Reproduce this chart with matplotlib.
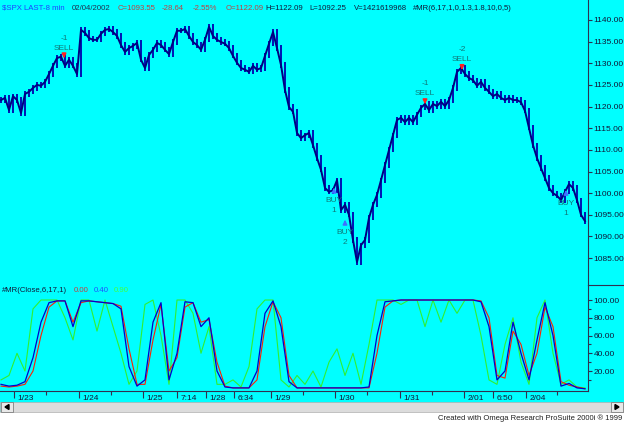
import numpy as np
import matplotlib.pyplot as plt
import matplotlib.transforms as mtransforms
from matplotlib.patches import Rectangle, Polygon
from matplotlib.lines import Line2D

plt.rcParams['font.family'] = ['Liberation Sans', 'DejaVu Sans']

W, H = 624, 423

# closes, one sample every ~24 minutes
closes = [1121.5, 1122.0, 1119.2, 1122.4, 1121.5, 1118.5, 1122.9, 1123.4, 1124.3, 1125.0,
          1124.8, 1125.7, 1127.5, 1129.4, 1131.2, 1131.5, 1129.4, 1130.8, 1129.4, 1127.5,
          1137.7, 1137.0, 1135.8, 1135.4, 1135.4, 1136.8, 1137.7, 1137.9, 1137.2, 1136.3,
          1134.2, 1132.6, 1133.5, 1134.0, 1134.7, 1130.8, 1128.9, 1131.9, 1133.1, 1134.7,
          1134.2, 1133.1, 1132.1, 1134.9, 1137.5, 1137.5, 1137.9, 1136.3, 1134.9, 1134.2,
          1133.1, 1135.4, 1138.4, 1136.3, 1135.4, 1134.9, 1134.5, 1133.5, 1131.7, 1130.1,
          1128.9, 1128.5, 1128.0, 1129.4, 1128.5, 1128.9, 1131.7, 1134.5, 1137.2, 1133.5,
          1129.6, 1123.8, 1119.9, 1118.8, 1113.9, 1112.7, 1113.4, 1113.9, 1111.1, 1108.1,
          1105.4, 1101.2, 1100.3, 1100.7, 1103.0, 1096.1, 1097.3, 1095.0, 1089.2, 1084.1,
          1088.0, 1089.2, 1094.3, 1097.3, 1099.6, 1103.0, 1106.5, 1110.0, 1113.4, 1116.9,
          1117.4, 1116.4, 1117.4, 1116.4, 1118.1, 1119.7, 1120.6, 1119.2, 1120.6, 1120.1,
          1121.1, 1120.1, 1121.5, 1124.3, 1128.0, 1128.9, 1127.5, 1126.6, 1126.1, 1124.8,
          1125.7, 1124.3, 1123.4, 1122.4, 1122.9, 1122.0, 1121.5, 1122.0, 1121.5, 1121.5,
          1121.0, 1119.0, 1115.1, 1111.1, 1108.1, 1105.8, 1103.5, 1101.2, 1100.0, 1099.4,
          1098.4, 1100.3, 1102.1, 1101.2, 1098.4, 1095.0, 1093.55]

# #MR(Close,6,17,1) lines, one sample every second bar
osc_blue = [5, 3, 4, 8, 35, 75, 97, 99, 99, 70, 99, 99, 98, 97, 96, 90, 25, 3, 10, 75,
            97, 10, 40, 98, 97, 70, 80, 20, 2, 1, 1, 1, 20, 85, 99, 70, 8, 1, 1, 1,
            1, 1, 1, 1, 1, 1, 2, 60, 98, 99, 100, 100, 100, 100, 100, 100, 100, 100, 100, 100,
            98, 70, 10, 20, 75, 40, 10, 55, 97, 60, 3, 6, 1, 0]
osc_red = [3, 2, 3, 5, 20, 60, 92, 99, 99, 75, 97, 99, 98, 97, 96, 93, 45, 5, 5, 55,
           95, 20, 35, 92, 97, 75, 78, 30, 3, 1, 1, 1, 10, 70, 98, 80, 15, 1, 1, 1,
           1, 1, 1, 1, 1, 1, 1, 40, 92, 99, 100, 100, 100, 100, 100, 100, 100, 100, 100, 100,
           99, 80, 15, 12, 65, 50, 15, 40, 92, 70, 8, 4, 2, 0]
osc_green = [10, 15, 40, 20, 90, 100, 100, 100, 80, 55, 100, 100, 65, 100, 70, 40, 5, 20, 95, 100,
             60, 5, 100, 100, 85, 40, 70, 5, 5, 10, 2, 25, 90, 100, 100, 10, 2, 15, 5, 20,
             2, 30, 45, 15, 40, 5, 50, 100, 100, 100, 95, 100, 100, 70, 100, 75, 100, 85, 100, 100,
             60, 10, 5, 50, 80, 30, 5, 80, 100, 40, 5, 10, 2, 1]

# date / time axis
tick_lbl = ['1/23', '1/24', '1/25', '7:14', '1/28', '6:34', '1/29', '1/30', '1/31', '2/01', '6:50', '2/04']
tick_pos = [3.25, 19.5, 35.5, 44.0, 51.25, 58.25, 67.5, 83.5, 99.75, 115.75, 123.0, 131.25]
minor_pos = [11.25, 27.5, 75.5, 91.5, 107.75, 139.0]

# strategy signals: bar, price, side, quantity
sig_bar = [15.75, 106.0, 115.25, 83.25, 86.0, 141.25]
sig_price = [1130.5, 1119.9, 1127.8, 1101.9, 1094.5, 1101.4]
sig_side = ['SELL', 'SELL', 'SELL', 'BUY', 'BUY', 'BUY']
sig_qty = ['-1', '-1', '-2', '1', '2', '1']

CYAN = '#00ffff'
AXCOL = '#303050'
TXT = '#101838'

fig = plt.figure(figsize=(W / 100, H / 100), dpi=100)
fig.patch.set_facecolor(CYAN)

# ---- price panel
ax1 = fig.add_axes([0, 1 - 285 / H, 588 / W, 285 / H])
ax1.set_facecolor('none')
c = np.array(closes)
x = np.arange(len(c))
prev = np.r_[c[0], c[:-1]]
ax1.vlines(x, np.minimum(prev, c) - 0.6, np.maximum(prev, c) + 0.6, color='#0000b0', lw=1.3)
ax1.plot(x, c, color='#000080', lw=1.4)
ax1.set_xlim(-0.25, 146.75)
ax1.set_ylim(1078.8, 1144.6)
ax1.yaxis.tick_right()
ax1.set_yticks(np.arange(1085, 1141, 5))
ax1.yaxis.set_major_formatter('{x:.2f}')
ax1.tick_params(axis='y', direction='out', length=3, width=0.8, colors=AXCOL,
                labelcolor=TXT, labelsize=6, pad=1)
ax1.set_xticks([])
for s in ['left', 'top', 'bottom']:
    ax1.spines[s].set_visible(False)
ax1.spines['right'].set_color(AXCOL)
ax1.spines['right'].set_linewidth(0.8)

for b, p, side, q in zip(sig_bar, sig_price, sig_side, sig_qty):
    if side == 'SELL':
        ax1.annotate('', xy=(b, p), xytext=(0, 9), textcoords='offset pixels',
                     arrowprops=dict(arrowstyle='-|>', color='#ff2020', lw=1.2, mutation_scale=6))
        ax1.annotate(side, (b, p), xytext=(0, 13), textcoords='offset pixels',
                     ha='center', va='center', fontsize=6, color='#107878')
        ax1.annotate(q, (b, p), xytext=(0, 23), textcoords='offset pixels',
                     ha='center', va='center', fontsize=6, color='#107878')
    else:
        ax1.annotate('', xy=(b, p), xytext=(0, -9), textcoords='offset pixels',
                     arrowprops=dict(arrowstyle='-|>', color='#4070ff', lw=1.2, mutation_scale=6))
        ax1.annotate(side, (b, p), xytext=(0, -16), textcoords='offset pixels',
                     ha='center', va='center', fontsize=6, color='#107878')
        ax1.annotate(q, (b, p), xytext=(0, -26), textcoords='offset pixels',
                     ha='center', va='center', fontsize=6, color='#107878')

# ---- oscillator panel
ax2 = fig.add_axes([0, 1 - 391 / H, 588 / W, 106 / H])
ax2.set_facecolor('none')
ox = np.arange(len(osc_blue)) * 2
ax2.plot(ox, osc_green, color='#30f030', lw=0.8)
ax2.plot(ox, osc_red, color='#ff2000', lw=0.8)
ax2.plot(ox, osc_blue, color='#0000cc', lw=0.9)
ax2.set_xlim(-0.25, 146.75)
ax2.set_ylim(-2.5, 116.9)
ax2.yaxis.tick_right()
ax2.set_yticks([20, 40, 60, 80, 100])
ax2.set_yticks([10, 30, 50, 70, 90], minor=True)
ax2.yaxis.set_major_formatter('{x:.2f}')
ax2.tick_params(axis='y', which='major', direction='out', length=3, width=0.8,
                colors=AXCOL, labelcolor=TXT, labelsize=6, pad=1)
ax2.tick_params(axis='y', which='minor', direction='out', length=2, width=0.8, colors=AXCOL)
ax2.set_xticks(tick_pos)
ax2.set_xticks(minor_pos, minor=True)
ax2.tick_params(axis='x', which='major', direction='out', length=5, width=0.8,
                colors=AXCOL, labelbottom=False)
ax2.tick_params(axis='x', which='minor', direction='out', length=3, width=0.8, colors=AXCOL)
for s in ['left', 'top']:
    ax2.spines[s].set_visible(False)
for s in ['right', 'bottom']:
    ax2.spines[s].set_color(AXCOL)
    ax2.spines[s].set_linewidth(0.8)
trans = mtransforms.blended_transform_factory(ax2.transData, ax2.transAxes)
for p, lbl in zip(tick_pos, tick_lbl):
    ax2.text(p + 0.8, -0.04, lbl, transform=trans, ha='left', va='top', fontsize=6, color=TXT)

# panel divider in the scale area
fig.add_artist(Line2D([588 / W, 1], [1 - 285 / H] * 2, transform=fig.transFigure, color=AXCOL, lw=0.8))

# ---- status lines
head = [('$SPX LAST-8 min', 2, '#2040ff'), ('02/04/2002', 72, '#203050'),
        ('C=1093.55', 118, '#c04040'), ('-28.64', 162, '#c04040'), ('-2.55%', 193, '#c04040'),
        ('O=1122.09', 226, '#c04040'), ('H=1122.09', 265, TXT), ('L=1092.25', 309, TXT),
        ('V=1421619968', 354, TXT), ('#MR(6,17,1,0,1.3,1.8,10,0,5)', 413, TXT)]
for s, px, col in head:
    fig.text(px / W, 1 - 8 / H, s, ha='left', va='center', fontsize=5.6, color=col)

sub = [('#MR(Close,6,17,1)', 2, TXT), ('0.00', 74, '#c04040'), ('0.40', 94, '#2050ff'),
       ('0.90', 114, '#40ff40')]
for s, px, col in sub:
    fig.text(px / W, 1 - 291 / H, s, ha='left', va='center', fontsize=5.6, color=col)

# ---- scroll bar and footer
fig.patches.append(Rectangle((0, 0), 1, 11 / H, transform=fig.transFigure,
                             facecolor='white', edgecolor='none', zorder=1))
fig.patches.append(Rectangle((0, 1 - 412 / H), 1, 10 / H, transform=fig.transFigure,
                             facecolor='#dcdcdc', edgecolor='#b0b0b0', lw=0.5, zorder=1))
for bx in [1, 611]:
    fig.patches.append(Rectangle((bx / W, 1 - 412 / H), 12 / W, 10 / H, transform=fig.transFigure,
                                 facecolor='#e8e8e8', edgecolor='#808080', lw=0.6, zorder=2))
fig.patches.append(Polygon([[5 / W, 1 - 407 / H], [9 / W, 1 - 404.5 / H], [9 / W, 1 - 409.5 / H]],
                           closed=True, transform=fig.transFigure, color='black', zorder=3))
fig.patches.append(Polygon([[619 / W, 1 - 407 / H], [615 / W, 1 - 404.5 / H], [615 / W, 1 - 409.5 / H]],
                           closed=True, transform=fig.transFigure, color='black', zorder=3))
fig.text(622 / W, 1 - 418 / H, 'Created with Omega Research ProSuite 2000i \u00ae 1999',
         ha='right', va='center', fontsize=5.5, color='#202020', zorder=4)

fig.savefig('out.png', dpi=100, facecolor=fig.get_facecolor())
